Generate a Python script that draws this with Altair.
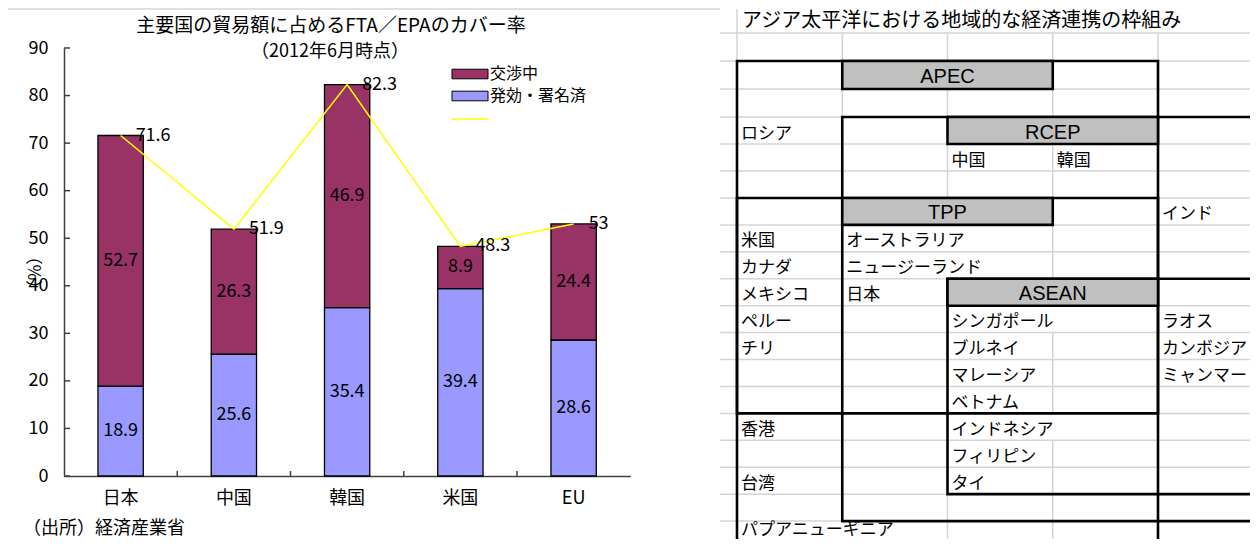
import altair as alt
import pandas as pd

FONT = "Noto Sans CJK JP"

# ---------------- left: bar chart data ----------------
countries = ["日本", "中国", "韓国", "米国", "EU"]
signed_vals = [18.9, 25.6, 35.4, 39.4, 28.6]          # 発効・署名済
negotiating_vals = [52.7, 26.3, 46.9, 8.9, 24.4]      # 交渉中
total_vals = [71.6, 51.9, 82.3, 48.3, 53]
total_text = ["71.6", "51.9", "82.3", "48.3", "53"]
series_names = ["交渉中", "発効・署名済"]
series_colors = ["#993366", "#9999FF"]
line_name = [" "]
y_ticks = [0, 10, 20, 30, 40, 50, 60, 70, 80, 90]

chart_title = "主要国の貿易額に占めるFTA／EPAのカバー率"
chart_subtitle = "（2012年6月時点）"
source_note = "（出所）経済産業省"
y_title = "（%）"

# ---------------- right: diagram data (grid cells) ----------------
diagram_title = "アジア太平洋における地域的な経済連携の枠組み"
group_names = ["APEC", "RCEP", "TPP", "ASEAN"]
group_head_col = [1, 2, 1, 2]
group_head_row = [2, 4, 7, 10]
group_left = [0, 1, 0, 2]
group_right = [4, 6, 4, 6]
group_top = [2, 4, 7, 10]
group_bottom = [21, 19, 15, 18]

member_names = ["ロシア", "中国", "韓国", "インド",
                "米国", "オーストラリア", "カナダ", "ニュージーランド",
                "メキシコ", "日本", "ペルー", "シンガポール", "ラオス",
                "チリ", "ブルネイ", "カンボジア", "マレーシア", "ミャンマー",
                "ベトナム", "香港", "インドネシア", "フィリピン",
                "台湾", "タイ", "パプアニューギニア"]
member_cols = [0, 2, 3, 4,
               0, 1, 0, 1,
               0, 1, 0, 2, 4,
               0, 2, 4, 2, 4,
               2, 0, 2, 2,
               0, 2, 0]
member_rows = [4, 5, 5, 7,
               8, 8, 9, 9,
               10, 10, 11, 11, 11,
               12, 12, 12, 13, 13,
               14, 15, 15, 16,
               17, 17, 19]
n_rows = 20
n_cols = 5
hidden_grid = [(0, 1), (0, 2), (0, 3), (0, 4), (8, 2), (9, 2), (11, 3), (15, 3), (19, 1)]

# ---------------- canvas ----------------
W, H = 1242, 531

# ---------------- left chart ----------------
rows = []
for c, s, n in zip(countries, signed_vals, negotiating_vals):
    rows.append({"cat": c, "series": series_names[1], "value": s, "ord": 0})
    rows.append({"cat": c, "series": series_names[0], "value": n, "ord": 1})
bar_df = pd.DataFrame(rows)
tot_df = pd.DataFrame({"cat": countries, "total": total_vals, "label": total_text,
                       "lname": line_name * len(countries)})

x_axis = alt.Axis(orient="bottom", offset=468 - H, ticks=False, tickSize=0, labelAngle=0,
                  labelFont=FONT, labelFontSize=18, labelColor="black", labelPadding=13,
                  domainColor="#404040", domainWidth=1.5, title=None, grid=False)
x_enc = alt.X("cat:N", sort=countries,
              scale=alt.Scale(range=[56, 622.25], paddingInner=0.6, paddingOuter=0.3),
              axis=x_axis)
y_scale = alt.Scale(domain=[0, 90], range=[468, 40], nice=False, zero=True)
y_axis = alt.Axis(orient="left", offset=-56, values=y_ticks, ticks=False, tickSize=0,
                  labelFont=FONT, labelFontSize=18, labelColor="black", labelPadding=16,
                  domainColor="#404040", domainWidth=1.5, grid=False,
                  title=y_title, titleFont=FONT, titleFontSize=17, titleFontWeight="normal",
                  titleColor="black", titleX=-29, titleY=264, titleAlign="center",
                  titleBaseline="middle", titleAngle=270)

bars = alt.Chart(bar_df).mark_bar(stroke="black", strokeWidth=1.3).encode(
    x=x_enc,
    y=alt.Y("value:Q", stack="zero", scale=y_scale, axis=y_axis),
    fill=alt.Fill("series:N", scale=alt.Scale(domain=series_names, range=series_colors),
                  legend=alt.Legend(orient="none", legendX=454, legendY=58, title=None,
                                    symbolType="M-3,-0.8H3V0.8H-3Z", symbolSize=144,
                                    symbolStrokeColor="black", symbolStrokeWidth=1,
                                    labelFont=FONT, labelFontSize=16, labelColor="black",
                                    labelOffset=12, rowPadding=6, padding=0)),
    order=alt.Order("ord:Q"),
)

seg_text = alt.Chart(bar_df).transform_stack(
    stack="value", groupby=["cat"], as_=["lo", "hi"], sort=[alt.SortField("ord", "ascending")]
).transform_calculate(mid="(datum.lo + datum.hi) / 2").mark_text(
    font=FONT, fontSize=18, color="black", baseline="middle", align="center"
).encode(
    x=x_enc,
    y=alt.Y("mid:Q", scale=y_scale, axis=y_axis),
    text=alt.Text("value:Q", format=".1f"),
)

line = alt.Chart(tot_df).mark_line(strokeWidth=1.5).encode(
    x=x_enc,
    y=alt.Y("total:Q", scale=y_scale, axis=y_axis),
    stroke=alt.Stroke("lname:N", scale=alt.Scale(domain=line_name, range=["#FFFF00"]),
                      legend=alt.Legend(orient="none", legendX=454, legendY=103, title=None,
                                        symbolType="M-3,0H3", symbolSize=144,
                                        symbolStrokeWidth=1.5, labelFontSize=16,
                                        labelOffset=12, padding=0)),
)

tot_text = alt.Chart(tot_df).mark_text(
    font=FONT, fontSize=18, color="black", align="left", baseline="middle", dx=15
).encode(
    x=x_enc,
    y=alt.Y("total:Q", scale=y_scale, axis=y_axis),
    text="label:N",
)

bar_group = alt.layer(bars, seg_text, line, tot_text)

# inward tick marks
tick_y = alt.Chart(pd.DataFrame({"v": y_ticks})).mark_rule(color="#404040", strokeWidth=1.5).encode(
    y=alt.Y("v:Q", scale=alt.Scale(domain=[0, 90], range=[468, 40], nice=False), axis=None),
    x=alt.value(56), x2=alt.value(62),
)
tick_x = alt.Chart(pd.DataFrame({"b": list(range(1, len(countries)))})).mark_rule(
    color="#404040", strokeWidth=1.5).encode(
    x=alt.X("b:Q", scale=alt.Scale(domain=[0, len(countries)], range=[56, 622.25],
                                   nice=False, zero=False), axis=None),
    y=alt.value(463), y2=alt.value(468),
)
tick_group = alt.layer(tick_y, tick_x)

note_title = alt.Chart(pd.DataFrame({"t": [chart_title]})).mark_text(
    font=FONT, fontSize=19, color="black", align="center", baseline="middle"
).encode(x=alt.value(323), y=alt.value(18), text="t:N")
note_sub = alt.Chart(pd.DataFrame({"t": [chart_subtitle]})).mark_text(
    font=FONT, fontSize=18, color="black", align="center", baseline="middle"
).encode(x=alt.value(322), y=alt.value(44), text="t:N")
note_src = alt.Chart(pd.DataFrame({"t": [source_note]})).mark_text(
    font=FONT, fontSize=18, color="black", align="left", baseline="middle"
).encode(x=alt.value(15), y=alt.value(521), text="t:N")
notes = alt.layer(note_title, note_sub, note_src)

# ---------------- right diagram ----------------
xs = alt.Scale(domain=[0, n_cols], range=[729, 729 + 105.25 * n_cols], nice=False, zero=False)
ys = alt.Scale(domain=[0, 1, 4, 7, 20], range=[1, 25, 109, 190, 540], nice=False, zero=False)

# top sheet line only over the left chart area, so the diagram title stays clear
hgrid_df = pd.DataFrame({"b": list(range(0, n_rows + 1)),
                         "x0": [-7.0] + [-0.16] * n_rows,
                         "x1": [-0.16] + [n_cols + 1] * n_rows})
hgrid = alt.Chart(hgrid_df).mark_rule(color="#D4D4D4", strokeWidth=1.5).encode(
    x=alt.X("x0:Q", scale=xs, axis=None), x2="x1:Q",
    y=alt.Y("b:Q", scale=ys, axis=None),
)
vseg = [{"k": k, "r0": r, "r1": r + 1}
        for r in range(n_rows) for k in range(n_cols) if (r, k) not in hidden_grid]
vgrid = alt.Chart(pd.DataFrame(vseg)).mark_rule(color="#D4D4D4", strokeWidth=1.5).encode(
    x=alt.X("k:Q", scale=xs, axis=None),
    y=alt.Y("r0:Q", scale=ys, axis=None), y2="r1:Q",
)

box_df = pd.DataFrame({"name": group_names, "x0": group_left, "x1": group_right,
                       "y0": group_top, "y1": group_bottom})
boxes = alt.Chart(box_df).mark_rect(fill="transparent", stroke="black", strokeWidth=2.6).encode(
    x=alt.X("x0:Q", scale=xs, axis=None), x2="x1:Q",
    y=alt.Y("y0:Q", scale=ys, axis=None), y2="y1:Q",
)

head_df = pd.DataFrame({"name": group_names, "col": group_head_col, "row": group_head_row})
heads = alt.Chart(head_df).transform_calculate(
    c2="datum.col + 2", r2="datum.row + 1"
).mark_rect(fill="#C0C0C0", stroke="black", strokeWidth=2.6).encode(
    x=alt.X("col:Q", scale=xs, axis=None), x2="c2:Q",
    y=alt.Y("row:Q", scale=ys, axis=None), y2="r2:Q",
)
head_text = alt.Chart(head_df).transform_calculate(
    xc="datum.col + 1", yc="datum.row + 0.5"
).mark_text(font="Liberation Sans", fontSize=20, color="black", align="center",
            baseline="middle", dy=2).encode(
    x=alt.X("xc:Q", scale=xs, axis=None),
    y=alt.Y("yc:Q", scale=ys, axis=None),
    text="name:N",
)

mem_df = pd.DataFrame({"name": member_names, "col": member_cols, "row": member_rows})
mem_text = alt.Chart(mem_df).transform_filter("datum.row < 19").transform_calculate(
    yc="datum.row + 0.5").mark_text(
    font=FONT, fontSize=17, color="black", align="left", baseline="middle", dx=4, dy=3
).encode(
    x=alt.X("col:Q", scale=xs, axis=None),
    y=alt.Y("yc:Q", scale=ys, axis=None),
    text="name:N",
)
# last spreadsheet row sits at the very bottom edge: keep it inside the picture
mem_text_last = alt.Chart(mem_df).transform_filter("datum.row >= 19").transform_calculate(
    yc="datum.row + 0.5").mark_text(
    font=FONT, fontSize=17, color="black", align="left", baseline="middle", dx=4, dy=-5
).encode(
    x=alt.X("col:Q", scale=xs, axis=None),
    y=alt.Y("yc:Q", scale=ys, axis=None),
    text="name:N",
)

dtitle = alt.Chart(pd.DataFrame({"name": [diagram_title], "col": [0], "row": [0]})).transform_calculate(
    yc="datum.row + 0.5").mark_text(
    font=FONT, fontSize=20, color="black", align="left", baseline="middle", dx=5, dy=0
).encode(
    x=alt.X("col:Q", scale=xs, axis=None),
    y=alt.Y("yc:Q", scale=ys, axis=None),
    text="name:N",
)

diagram = alt.layer(hgrid, vgrid, boxes, heads, head_text, mem_text, mem_text_last, dtitle)

chart = alt.layer(diagram, bar_group, tick_group, notes).resolve_scale(
    x="independent", y="independent"
).properties(
    width=W, height=H, autosize=alt.AutoSizeParams(type="none"), padding=0
).configure_view(stroke="transparent")

chart.save("out.html", embed_options={"renderer": "svg", "actions": False})
